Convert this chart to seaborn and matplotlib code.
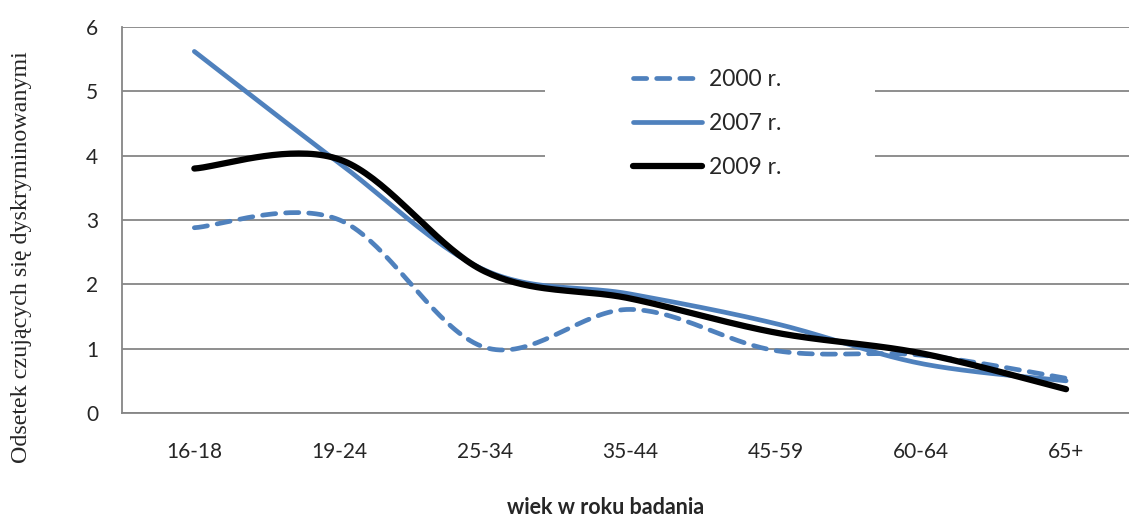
import numpy as np
import pandas as pd
import seaborn as sns
import matplotlib.pyplot as plt
from matplotlib.patches import Rectangle

# %% data
age_groups = ["16-18", "19-24", "25-34", "35-44", "45-59", "60-64", "65+"]
y2000 = [2.88, 3.00, 1.02, 1.61, 0.97, 0.90, 0.54]
y2007 = [5.62, 3.88, 2.22, 1.85, 1.39, 0.77, 0.50]
y2009 = [3.80, 3.94, 2.20, 1.78, 1.25, 0.93, 0.37]
series_names = ["2000 r.", "2007 r.", "2009 r."]
y_ticks = [0, 1, 2, 3, 4, 5, 6]

BLUE = "#4F81BD"
GRID = "#868686"


def smooth(xs, ys, steps=40):
    # excel-like smoothed line: bezier segments with catmull-rom control points
    p = np.column_stack([xs, ys]).astype(float)
    p = np.vstack([p[0], p, p[-1]])
    out = []
    t = np.linspace(0, 1, steps)[:, None]
    for i in range(1, len(p) - 2):
        a, b = p[i], p[i + 1]
        c1 = a + (p[i + 1] - p[i - 1]) / 6
        c2 = b - (p[i + 2] - p[i]) / 6
        seg = ((1 - t) ** 3) * a + 3 * ((1 - t) ** 2) * t * c1 + 3 * (1 - t) * t ** 2 * c2 + t ** 3 * b
        out.append(seg if i == 1 else seg[1:])
    out = np.vstack(out)
    return pd.DataFrame({"x": out[:, 0], "y": out[:, 1]})


sns.set_style("white")
plt.rcParams["font.family"] = ["Lato", "DejaVu Sans"]

fig = plt.figure(figsize=(11.29, 5.18), dpi=100)
ax = fig.add_axes([121.7 / 1129, 105 / 518, 1017 / 1129, 386 / 518])

xpos = np.arange(len(age_groups))
styles = [
    dict(color=BLUE, lw=3.4, dashes=(2.8, 2.1), dash_capstyle="round"),
    dict(color=BLUE, lw=3.4, solid_capstyle="round"),
    dict(color="black", lw=4.5, solid_capstyle="round"),
]
for name, vals, st in zip(series_names, [y2000, y2007, y2009], styles):
    d = smooth(xpos, vals)
    sns.lineplot(data=d, x="x", y="y", sort=False, estimator=None, ax=ax,
                 label=name, zorder=3, **st)

ax.set_xlim(-0.5, len(age_groups) - 0.5)
ax.set_ylim(0, 6)
ax.set_xticks(xpos)
ax.set_xticklabels(age_groups)
ax.set_xticks(np.arange(-0.5, len(age_groups), 1), minor=True)
ax.set_yticks(y_ticks)
ax.tick_params(axis="x", which="major", length=0, pad=21, labelsize=15)
ax.tick_params(axis="x", which="minor", length=5, width=1.3, color=GRID, direction="out")
ax.tick_params(axis="y", length=6, width=1.3, color=GRID, direction="out", pad=11, labelsize=15)
ax.set_xlabel("")
ax.set_ylabel("")

ax.yaxis.grid(True, color=GRID, lw=1.3)
ax.xaxis.grid(False)
ax.set_axisbelow(True)
for s in ["top", "right"]:
    ax.spines[s].set_visible(False)
for s in ["left", "bottom"]:
    ax.spines[s].set_color(GRID)
    ax.spines[s].set_linewidth(1.3)

# white legend area that hides the gridlines
ax.add_patch(Rectangle((0.416, 0.57), 0.325, 0.36, transform=ax.transAxes,
                       facecolor="white", edgecolor="none", zorder=1))
ax.legend(loc="upper left", bbox_to_anchor=(0.503, 0.89), frameon=False,
          fontsize=16.5, handlelength=3.0, handletextpad=0.3, labelspacing=1.0,
          borderpad=0, borderaxespad=0)

fig.text(22 / 1129, 1 - 257 / 518, "Odsetek czujących się dyskryminowanymi", rotation=90,
         ha="center", va="center", fontsize=17.3, family=["Liberation Serif"])
fig.text(606 / 1129, 1 - 507 / 518, "wiek w roku badania", ha="center", va="center",
         fontsize=15.5, fontweight="bold")

fig.savefig("out.png", dpi=100)
